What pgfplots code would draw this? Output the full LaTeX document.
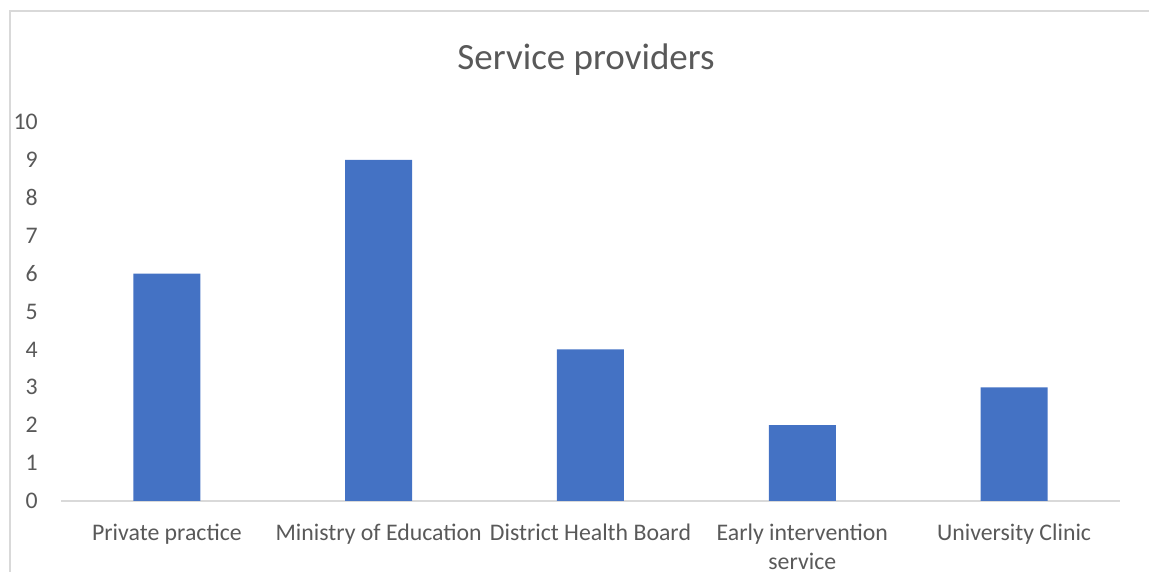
\documentclass[border=0pt]{standalone}
\usepackage{pgfplots}
\pgfplotsset{compat=1.18}
\usepackage{fontspec}
\setmainfont{Carlito}
\definecolor{barblue}{HTML}{4472C4}
\definecolor{txt}{HTML}{595959}
\definecolor{gridc}{HTML}{D9D9D9}
\begin{document}
\begin{tikzpicture}[x=1pt,y=1pt]
\useasboundingbox (0,0) rectangle (1149,572);
\draw[gridc, line width=1.5pt] (10,0) -- (10,561) -- (1149,561);
\begin{axis}[
  at={(61pt,71pt)}, anchor=south west,
  scale only axis, width=1059pt, height=379pt,
  xmin=-0.5, xmax=4.5, ymin=0, ymax=10,
  ybar, bar width=67pt,
  axis x line*=bottom, axis y line*=left,
  y axis line style={draw=none},
  x axis line style={draw=gridc, line width=1.5pt, -},
  major tick length=0pt,
  xtick={0,1,2,3,4},
  xticklabels={Private practice, Ministry of Education, District Health Board, {Early intervention\\service}, University Clinic},
  ytick={0,1,...,10},
  /pgf/number format/assume math mode=true,
  ticklabel style={font=\fontsize{23.8}{29}\selectfont, text=txt},
  xticklabel style={align=center, anchor=north, inner sep=0pt, yshift=-23pt},
  yticklabel style={anchor=east, inner sep=0pt, xshift=-23pt},
]
\addplot[fill=barblue, draw=none] coordinates {(0,6) (1,9) (2,4) (3,2) (4,3)};
\end{axis}
\node[text=txt, font=\fontsize{37}{44}\selectfont] at (586,512) {Service providers};
\end{tikzpicture}
\end{document}
